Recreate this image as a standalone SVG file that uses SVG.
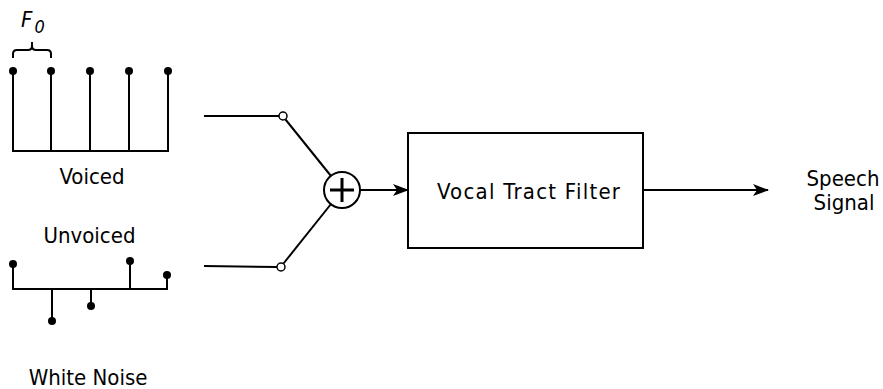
<svg xmlns="http://www.w3.org/2000/svg" width="883" height="389" viewBox="0 0 883 389">
<defs>
<style>
.ln{stroke:#000;stroke-width:2;fill:none;stroke-linecap:square}
.dot{fill:#000}
.t{font-family:"DejaVu Sans Condensed","DejaVu Sans",sans-serif;font-size:22px;fill:#000;font-stretch:condensed}
</style>
<marker id="ah" markerWidth="16" markerHeight="14" refX="15" refY="7" orient="auto" markerUnits="userSpaceOnUse">
<path d="M0,1 L16,7 L0,13 L4,7 Z" fill="#000"/>
</marker>
</defs>
<g id="voiced">
<path class="ln" d="M13,71 V151 H168 V71 M51,71 V151 M90,71 V151 M129,71 V151"/>
<circle class="dot" cx="13" cy="71" r="4"/>
<circle class="dot" cx="51" cy="71" r="4"/>
<circle class="dot" cx="90" cy="71" r="4"/>
<circle class="dot" cx="129" cy="71" r="4"/>
<circle class="dot" cx="168" cy="71" r="4"/>
<path d="M13,58 V54 Q13,50 17,50 H28 Q32,50 32,46 V42 M32,46 Q32,50 36,50 H47 Q51,50 51,54 V58" stroke="#000" stroke-width="2" fill="none"/>
<text class="t" x="21" y="27" font-style="italic">F<tspan font-size="18" dx="2" dy="6">0</tspan></text>
<text class="t" x="92" y="184" text-anchor="middle">Voiced</text>
</g>
<g id="unvoiced">
<text class="t" x="89.5" y="243" text-anchor="middle">Unvoiced</text>
<path class="ln" d="M13,264 V289 H167 V275 M52,289 V321 M91,289 V306 M130,289 V261"/>
<circle class="dot" cx="13" cy="264" r="4"/>
<circle class="dot" cx="52" cy="321" r="4"/>
<circle class="dot" cx="91" cy="306" r="4"/>
<circle class="dot" cx="130" cy="261" r="4"/>
<circle class="dot" cx="167" cy="275" r="4"/>
<text class="t" x="88" y="385" text-anchor="middle">White Noise</text>
</g>
<g id="switch-top">
<circle cx="283" cy="116" r="4" fill="#fff" stroke="#000" stroke-width="1.5"/>
</g>
<g id="switch-bottom">
<circle cx="281" cy="267" r="4" fill="#fff" stroke="#000" stroke-width="1.5"/>
</g>
<g id="sum">
<circle cx="342" cy="190" r="18" fill="#fff" stroke="#000" stroke-width="2"/>
<path d="M330,190 H354 M342,178 V202" stroke="#000" stroke-width="3" fill="none"/>
</g>
<g id="filter">
<rect x="408" y="133" width="235" height="115" fill="#fff" stroke="#000" stroke-width="2"/>
<text class="t" x="437" y="199" textLength="183" lengthAdjust="spacing">Vocal Tract Filter</text>
</g>
<g id="output">
<text class="t" x="843" y="186" text-anchor="middle">Speech</text>
<text class="t" x="844" y="210" text-anchor="middle">Signal</text>
</g>
<g id="connectors">
<path d="M204,116 H279" stroke="#000" stroke-width="2" fill="none"/>
<path d="M204,266 L277,267" stroke="#000" stroke-width="2" fill="none"/>
<path d="M285.5,119.5 L331,176" stroke="#000" stroke-width="2" fill="none"/>
<path d="M283.5,263.5 L331,204" stroke="#000" stroke-width="2" fill="none"/>
<path d="M360,190 H408" stroke="#000" stroke-width="2" fill="none" marker-end="url(#ah)"/>
<path d="M643,190 H768" stroke="#000" stroke-width="2" fill="none" marker-end="url(#ah)"/>
</g>
</svg>
